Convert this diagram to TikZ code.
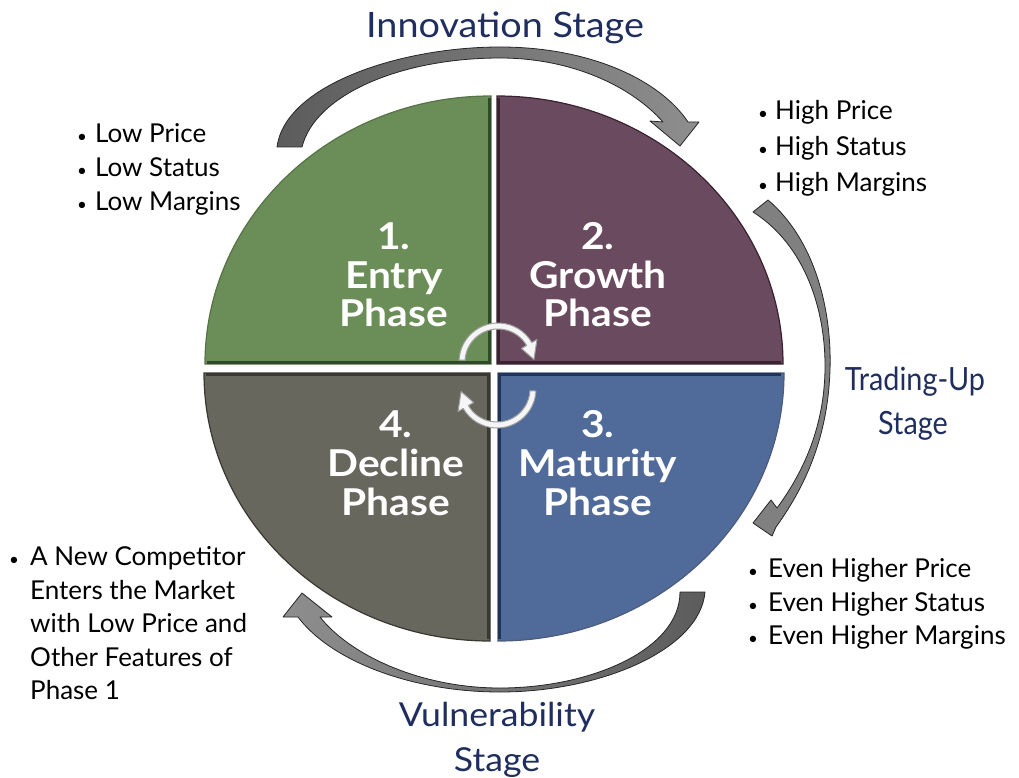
\documentclass[tikz,border=0pt]{standalone}
\usepackage{fontspec}
\setmainfont{Lato}
\newfontfamily\phasefont[FakeStretch=1.1]{Lato}
\newfontfamily\stagefont[FakeStretch=1.08]{Lato}
\newfontfamily\narrowfont[FakeStretch=0.9]{Lato}
\usetikzlibrary{calc}
\definecolor{qgreen}{HTML}{6B8E58}
\definecolor{qgreenD}{HTML}{2F4A26}
\definecolor{qpurple}{HTML}{6A4A5E}
\definecolor{qpurpleD}{HTML}{3A2231}
\definecolor{qblue}{HTML}{506A9A}
\definecolor{qblueD}{HTML}{22335A}
\definecolor{qgray}{HTML}{68675E}
\definecolor{qgrayD}{HTML}{393830}
\definecolor{navy}{HTML}{1F2E5E}
\definecolor{agrayL}{HTML}{8E8E8E}
\definecolor{agrayD}{HTML}{5C5C5C}
\newcommand{\bdot}{{\fontsize{17}{17}\selectfont •}}
\begin{document}
\begin{tikzpicture}[x=1pt,y=-1pt,
  quad/.style={line width=1.2pt},
  edge/.style={line width=3pt},
  bigarrow/.style={draw=black!85, line width=0.8pt, line join=round},
  smallarrow/.style={fill=white!92!gray, draw=gray!75, line width=1pt, line join=round},
  stage/.style={text=navy, inner sep=0pt, anchor=base},
  bul/.style={font=\fontsize{26}{30}\selectfont, anchor=base west, inner sep=0pt},
  phase/.style={font=\phasefont\bfseries\fontsize{37}{40}\selectfont, text=white, anchor=base, inner sep=0pt}]
\useasboundingbox (0,0) rectangle (1019,778);
\fill[white] (0,0) rectangle (1019,778);

% quadrants
\coordinate (cg) at (491,364);
\coordinate (cp) at (497,364);
\coordinate (cb) at (498,373);
\coordinate (cy) at (490,373);
\filldraw[quad, fill=qgreen, draw=qgreen!80!black] (cg) -- ++(-286,0) arc[start angle=180, end angle=270, x radius=286, y radius=268] -- cycle;
\filldraw[quad, fill=qpurple, draw=qpurpleD] (cp) -- ++(0,-268) arc[start angle=270, end angle=360, x radius=286, y radius=268] -- cycle;
\filldraw[quad, fill=qblue, draw=qblueD!80] (cb) -- ++(286,0) arc[start angle=0, end angle=90, x radius=286, y radius=268] -- cycle;
\filldraw[quad, fill=qgray, draw=qgrayD] (cy) -- ++(0,268) arc[start angle=90, end angle=180, x radius=286, y radius=268] -- cycle;
\draw[edge, qgreenD] (489.5,98) -- (489.5,362.5) -- (207,362.5);
\draw[edge, qpurpleD] (498.5,98) -- (498.5,362.5) -- (781,362.5);
\draw[edge, qblueD] (781,374.5) -- (499.5,374.5) -- (499.5,639);
\draw[edge, qgrayD] (488.5,639) -- (488.5,374.5) -- (206,374.5);

% big curved arrows
\path[bigarrow, left color=agrayD, right color=agrayL]
  (277,147) .. controls (285,85) and (400,47) .. (500,47)
  .. controls (590,47) and (660,80) .. (688,122)
  -- (699,122) -- (680,146) -- (650,121) -- (663,122)
  .. controls (630,85) and (570,58) .. (500,58)
  .. controls (400,58) and (315,95) .. (302,147) -- cycle;
\path[bigarrow, fill=agrayL!90!black]
  (768,200) .. controls (815,240) and (832,310) .. (830,370)
  .. controls (828,430) and (810,480) .. (776,527)
  -- (772,536) -- (753,523) -- (771,500) -- (777,508)
  .. controls (805,470) and (824,425) .. (825,370)
  .. controls (826,310) and (805,245) .. (753,212) -- cycle;
\path[bigarrow, left color=agrayL, right color=agrayD]
  (705,592) .. controls (700,650) and (600,692) .. (500,692)
  .. controls (410,692) and (330,660) .. (298,617)
  -- (283,617) -- (302,593) -- (332,617) -- (320,617)
  .. controls (350,655) and (420,688) .. (500,688)
  .. controls (590,688) and (680,650) .. (680,592) -- cycle;

% small centre arrows
\coordinate (c1) at (498,362);
\coordinate (c2) at (497,389);
\path[smallarrow] ($(c1)+(183:39)$) arc[start angle=183, end angle=330, radius=39]
  -- ($(c1)+(330:45)$) -- ($(c1)+(356:36)$) -- ($(c1)+(330:27)$) -- ($(c1)+(330:33)$)
  arc[start angle=330, end angle=183, radius=33] -- cycle;
\path[smallarrow] ($(c2)+(3:39)$) arc[start angle=3, end angle=150, radius=39]
  -- ($(c2)+(150:45)$) -- ($(c2)+(176:36)$) -- ($(c2)+(150:27)$) -- ($(c2)+(150:33)$)
  arc[start angle=150, end angle=3, radius=33] -- cycle;

% phase labels
\node[phase] (p1a) at (394,249) {1.};
\node[phase] (p1b) at (394,288) {Entry};
\node[phase] (p1c) at (394,326) {Phase};
\node[phase] (p2a) at (598,249) {2.};
\node[phase] (p2b) at (598,288) {Growth};
\node[phase] (p2c) at (598,326) {Phase};
\node[phase] (p3a) at (598,437) {3.};
\node[phase] (p3b) at (598,476) {Maturity};
\node[phase] (p3c) at (598,515) {Phase};
\node[phase] (p4a) at (396,437) {4.};
\node[phase] (p4b) at (396,476) {Decline};
\node[phase] (p4c) at (396,515) {Phase};

% stage labels
\node[stage, font=\stagefont\fontsize{35}{40}\selectfont] (s1) at (505,38) {Innovation Stage};
\node[stage, font=\narrowfont\fontsize{32}{36}\selectfont] (s2a) at (915,390) {Trading-Up};
\node[stage, font=\narrowfont\fontsize{32}{36}\selectfont] (s2b) at (913,434) {Stage};
\node[stage, font=\stagefont\fontsize{33}{38}\selectfont] (s3a) at (497,726) {Vulnerability};
\node[stage, font=\stagefont\fontsize{33}{38}\selectfont] (s3b) at (497,771) {Stage};

% bullet lists
\node[bul] (lt1) at (77,143) {\makebox[18pt][l]{\bdot}Low Price};
\node[bul] (lt2) at (77,177) {\makebox[18pt][l]{\bdot}Low Status};
\node[bul] (lt3) at (77,211) {\makebox[18pt][l]{\bdot}Low Margins};
\node[bul] (rt1) at (758,120) {\makebox[17pt][l]{\bdot}High Price};
\node[bul] (rt2) at (758,156) {\makebox[17pt][l]{\bdot}High Status};
\node[bul] (rt3) at (758,192) {\makebox[17pt][l]{\bdot}High Margins};
\node[bul] (rb1) at (748,577) {\makebox[20pt][l]{\bdot}Even Higher Price};
\node[bul] (rb2) at (748,611) {\makebox[20pt][l]{\bdot}Even Higher Status};
\node[bul] (rb3) at (748,644) {\makebox[20pt][l]{\bdot}Even Higher Margins};
\node[bul] (lb1) at (9,565) {\makebox[21pt][l]{\bdot}A New Competitor};
\node[bul] (lb2) at (30,599) {Enters the Market};
\node[bul] (lb3) at (30,632) {with Low Price and};
\node[bul] (lb4) at (30,666) {Other Features of};
\node[bul] (lb5) at (30,699) {Phase 1};
\end{tikzpicture}
\end{document}
